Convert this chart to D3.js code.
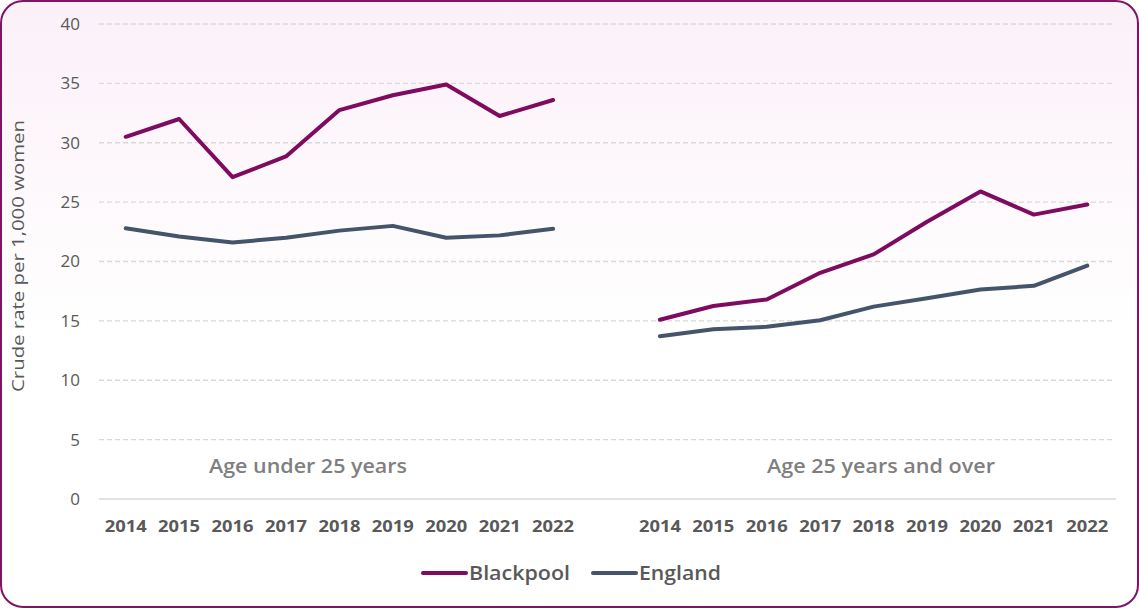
<!DOCTYPE html>
<html>
<head>
<meta charset="utf-8">
<script src="https://cdnjs.cloudflare.com/ajax/libs/d3/7.8.5/d3.min.js"></script>
<style>
  body { margin: 0; background: #fff; }
  svg { display: block; font-family: "Open Sans", "Noto Sans", sans-serif; }
</style>
</head>
<body>
<div id="chart"></div>
<script>
// values
var years = ["2014", "2015", "2016", "2017", "2018", "2019", "2020", "2021", "2022"];
var groups = ["Age under 25 years", "Age 25 years and over"];
var blackpoolUnder25 = [30.5, 32.0, 27.1, 28.85, 32.75, 34.0, 34.9, 32.25, 33.6];
var englandUnder25   = [22.8, 22.1, 21.6, 22.0, 22.6, 23.0, 22.0, 22.2, 22.75];
var blackpoolOver25  = [15.1, 16.25, 16.8, 19.05, 20.6, 23.35, 25.9, 23.95, 24.8];
var englandOver25    = [13.7, 14.3, 14.5, 15.05, 16.2, 16.9, 17.65, 17.95, 19.65];
var yTicks = [0, 5, 10, 15, 20, 25, 30, 35, 40];

var W = 1139, H = 608;
var margin = {left: 99, right: 25, top: 24, bottom: 109};

var svg = d3.select("#chart").append("svg")
  .attr("width", W)
  .attr("height", H);

// background panel with soft pink fade
var defs = svg.append("defs");
var grad = defs.append("linearGradient")
  .attr("id", "bg").attr("x1", 0).attr("y1", 0).attr("x2", 0).attr("y2", 1);
grad.append("stop").attr("offset", "0%").attr("stop-color", "#fbf0f8");
grad.append("stop").attr("offset", "55%").attr("stop-color", "#ffffff");
grad.append("stop").attr("offset", "100%").attr("stop-color", "#ffffff");

svg.append("rect")
  .attr("x", 1).attr("y", 1)
  .attr("width", W - 2).attr("height", H - 2)
  .attr("rx", 22).attr("ry", 22)
  .attr("fill", "url(#bg)")
  .attr("stroke", "#7f1467")
  .attr("stroke-width", 2);

// 9 years, a blank slot, 9 years
var keys = years.map(function(y){ return "u" + y; })
  .concat(["gap"])
  .concat(years.map(function(y){ return "o" + y; }));

var x = d3.scalePoint()
  .domain(keys)
  .range([margin.left, W - margin.right])
  .padding(0.5);

var y = d3.scaleLinear()
  .domain([0, 40])
  .range([H - margin.bottom, margin.top]);

// gridlines
svg.append("g").selectAll("line")
  .data(yTicks.filter(function(d){ return d > 0; }))
  .enter().append("line")
  .attr("x1", margin.left).attr("x2", W - margin.right)
  .attr("y1", function(d){ return y(d); })
  .attr("y2", function(d){ return y(d); })
  .attr("stroke", "#d9d9d9")
  .attr("stroke-width", 1.3)
  .attr("stroke-dasharray", "5,3");

svg.append("line")
  .attr("x1", margin.left).attr("x2", W - margin.right + 2)
  .attr("y1", y(0)).attr("y2", y(0))
  .attr("stroke", "#d9d9d9")
  .attr("stroke-width", 1.5);

// y axis labels
svg.append("g").selectAll("text")
  .data(yTicks)
  .enter().append("text")
  .attr("x", 80)
  .attr("y", function(d){ return y(d); })
  .attr("dy", "0.35em")
  .attr("text-anchor", "end")
  .attr("fill", "#595959")
  .style("font-size", "17px")
  .text(function(d){ return d; });

svg.append("text")
  .attr("transform", "translate(24," + 256 + ") rotate(-90)")
  .attr("text-anchor", "middle")
  .attr("fill", "#595959")
  .style("font-size", "16px")
  .attr("textLength", 272)
  .attr("lengthAdjust", "spacingAndGlyphs")
  .text("Crude rate per 1,000 women");

// x axis year labels
svg.append("g").selectAll("text")
  .data(keys.filter(function(k){ return k != "gap"; }))
  .enter().append("text")
  .attr("x", function(d){ return x(d); })
  .attr("y", 532)
  .attr("text-anchor", "middle")
  .attr("fill", "#595959")
  .style("font-size", "16px")
  .style("font-weight", "bold")
  .attr("textLength", 42)
  .attr("lengthAdjust", "spacingAndGlyphs")
  .text(function(d){ return d.slice(1); });

// panel captions
var captionX = [308, 881], captionW = [198, 228];
svg.append("g").selectAll("text")
  .data(groups)
  .enter().append("text")
  .attr("x", function(d, i){ return captionX[i]; })
  .attr("y", 473)
  .attr("text-anchor", "middle")
  .attr("fill", "#7f7f7f")
  .style("font-size", "20px")
  .style("font-weight", "600")
  .attr("textLength", function(d, i){ return captionW[i]; })
  .attr("lengthAdjust", "spacingAndGlyphs")
  .text(function(d){ return d; });

var line = d3.line()
  .x(function(d){ return x(d.key); })
  .y(function(d){ return y(d.value); });

function pts(prefix, vals) {
  return vals.map(function(v, i){ return {key: prefix + years[i], value: v}; });
}

var series = [
  {name: "Blackpool", color: "#7e0b5f", data: [pts("u", blackpoolUnder25), pts("o", blackpoolOver25)]},
  {name: "England", color: "#44546a", data: [pts("u", englandUnder25), pts("o", englandOver25)]}
];

series.slice().reverse().forEach(function(s){
  s.data.forEach(function(seg){
    svg.append("path")
      .datum(seg)
      .attr("d", line)
      .attr("fill", "none")
      .attr("stroke", s.color)
      .attr("stroke-width", 4)
      .attr("stroke-linejoin", "round")
      .attr("stroke-linecap", "round");
  });
});

// legend
var legendX = [423, 593], legendW = [101, 82];
var lg = svg.append("g").selectAll("g")
  .data(series)
  .enter().append("g")
  .attr("transform", function(d, i){ return "translate(" + legendX[i] + ",573)"; });

lg.append("line")
  .attr("x1", 0).attr("x2", 43)
  .attr("stroke", function(d){ return d.color; })
  .attr("stroke-width", 4)
  .attr("stroke-linecap", "round");

lg.append("text")
  .attr("x", 46)
  .attr("dy", "0.36em")
  .attr("fill", "#595959")
  .style("font-size", "20px")
  .style("font-weight", "600")
  .attr("textLength", function(d, i){ return legendW[i]; })
  .attr("lengthAdjust", "spacingAndGlyphs")
  .text(function(d){ return d.name; });
</script>
</body>
</html>
